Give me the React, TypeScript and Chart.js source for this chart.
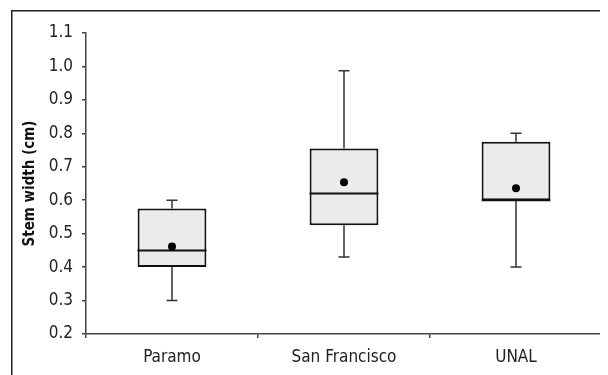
import React, { useEffect, useRef } from "react";
import { Chart, registerables } from "chart.js";

Chart.register(...registerables);

const categories = ["Paramo", "San Francisco", "UNAL"];
const whiskerLow = [0.3, 0.43, 0.4];
const q1 = [0.4, 0.525, 0.6];
const medians = [0.45, 0.62, 0.6];
const q3 = [0.575, 0.755, 0.775];
const whiskerHigh = [0.6, 0.987, 0.8];
const means = [0.462, 0.654, 0.636];
const yTicks = [0.2, 0.3, 0.4, 0.5, 0.6, 0.7, 0.8, 0.9, 1.0, 1.1];
const yTitle = "Stem width (cm)";

const FONT = "'Liberation Sans Narrow', 'DejaVu Sans Condensed', 'Arial Narrow', Arial, sans-serif";

const boxPlugin = {
  id: "boxExtras",
  afterDatasetDraw(chart: any, args: any) {
    if (args.index !== 0) return;
    const { ctx, scales } = chart;
    const x = scales.x;
    const y = scales.y;
    const meta = chart.getDatasetMeta(0);
    ctx.save();
    categories.forEach((_, i) => {
      const bar: any = meta.data[i];
      const cx = x.getPixelForValue(i);
      const half = bar.width / 2;
      const cap = 5.5;
      ctx.strokeStyle = "#333";
      ctx.lineWidth = 1.5;
      ctx.beginPath();
      ctx.moveTo(cx, y.getPixelForValue(q3[i]));
      ctx.lineTo(cx, y.getPixelForValue(whiskerHigh[i]));
      ctx.moveTo(cx - cap, y.getPixelForValue(whiskerHigh[i]));
      ctx.lineTo(cx + cap, y.getPixelForValue(whiskerHigh[i]));
      ctx.moveTo(cx, y.getPixelForValue(q1[i]));
      ctx.lineTo(cx, y.getPixelForValue(whiskerLow[i]));
      ctx.moveTo(cx - cap, y.getPixelForValue(whiskerLow[i]));
      ctx.lineTo(cx + cap, y.getPixelForValue(whiskerLow[i]));
      ctx.stroke();
      ctx.strokeStyle = "#111";
      ctx.lineWidth = 2;
      ctx.beginPath();
      ctx.moveTo(cx - half, y.getPixelForValue(medians[i]));
      ctx.lineTo(cx + half, y.getPixelForValue(medians[i]));
      ctx.stroke();
    });
    ctx.restore();
  },
  afterDraw(chart: any) {
    const { ctx } = chart;
    ctx.save();
    ctx.strokeStyle = "#222";
    ctx.lineWidth = 1.5;
    ctx.beginPath();
    ctx.moveTo(3.75, chart.height);
    ctx.lineTo(3.75, 2.75);
    ctx.lineTo(chart.width, 2.75);
    ctx.stroke();
    ctx.restore();
  },
};

export default function App() {
  const ref = useRef<HTMLCanvasElement | null>(null);
  useEffect(() => {
    if (!ref.current) return;
    const chart = new Chart(ref.current, {
      type: "bar",
      data: {
        labels: categories,
        datasets: [
          {
            type: "bar",
            data: categories.map((_, i) => [q1[i], q3[i]]) as any,
            backgroundColor: "#ebebeb",
            borderColor: "#111",
            borderWidth: 2,
            borderSkipped: false,
            barPercentage: 1,
            categoryPercentage: 0.4,
            order: 2,
          },
          {
            type: "line",
            data: means,
            showLine: false,
            pointRadius: 4,
            pointBackgroundColor: "#000",
            pointBorderColor: "#000",
            pointBorderWidth: 0,
            order: 1,
          } as any,
        ],
      },
      options: {
        animation: false,
        responsive: true,
        maintainAspectRatio: false,
        layout: { padding: { top: 25, right: 6, left: 0, bottom: 0 } },
        plugins: { legend: { display: false }, tooltip: { enabled: false } },
        scales: {
          x: {
            offset: true,
            grid: {
              offset: true,
              drawOnChartArea: false,
              tickLength: 4,
              color: "#444",
              lineWidth: 1.5,
            },
            border: { color: "#444", width: 1.5 },
            ticks: { color: "#222", font: { family: FONT, size: 17 }, padding: 9 },
            afterFit(s: any) {
              s.height = 41;
            },
          },
          y: {
            min: 0.2,
            max: 1.1,
            afterBuildTicks(s: any) {
              s.ticks = yTicks.map((v) => ({ value: v }));
            },
            grid: {
              drawOnChartArea: false,
              tickLength: 4,
              color: "#444",
              lineWidth: 1.5,
            },
            border: { color: "#444", width: 1.5 },
            ticks: {
              color: "#222",
              font: { family: FONT, size: 17 },
              padding: 9,
              callback: (v: any) => Number(v).toFixed(1),
            },
            title: {
              display: true,
              text: yTitle,
              color: "#111",
              font: { family: FONT, size: 15, weight: "bold" },
              padding: { top: 13, bottom: 0 },
            },
            afterFit(s: any) {
              s.width = 78;
            },
          },
        },
      },
      plugins: [boxPlugin],
    });
    return () => chart.destroy();
  }, []);
  return (
    <div style={{ width: 600, height: 367, position: "relative" }}>
      <canvas ref={ref} />
    </div>
  );
}
